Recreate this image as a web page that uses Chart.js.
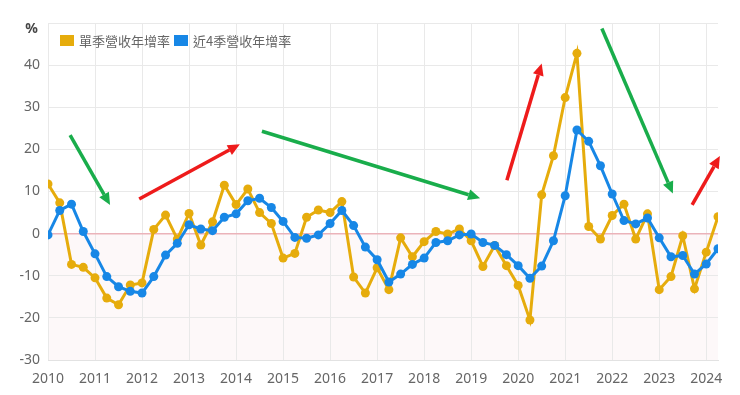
<!DOCTYPE html>
<html>
<head>
<meta charset="utf-8">
<script src="https://cdn.jsdelivr.net/npm/chart.js@4.4.1/dist/chart.umd.min.js"></script>
<style>
  html, body { margin: 0; padding: 0; background: #fff; }
  #chart { display: block; }
</style>
</head>
<body>
<canvas id="chart" width="740" height="395"></canvas>
<script>
// quarters 2010Q1 .. 2024Q2
const quarters = [
  '2010Q1','2010Q2','2010Q3','2010Q4','2011Q1','2011Q2','2011Q3','2011Q4',
  '2012Q1','2012Q2','2012Q3','2012Q4','2013Q1','2013Q2','2013Q3','2013Q4',
  '2014Q1','2014Q2','2014Q3','2014Q4','2015Q1','2015Q2','2015Q3','2015Q4',
  '2016Q1','2016Q2','2016Q3','2016Q4','2017Q1','2017Q2','2017Q3','2017Q4',
  '2018Q1','2018Q2','2018Q3','2018Q4','2019Q1','2019Q2','2019Q3','2019Q4',
  '2020Q1','2020Q2','2020Q3','2020Q4','2021Q1','2021Q2','2021Q3','2021Q4',
  '2022Q1','2022Q2','2022Q3','2022Q4','2023Q1','2023Q2','2023Q3','2023Q4',
  '2024Q1','2024Q2'
];

// 單季營收年增率
const singleQuarter = [
  11.8, 7.3, -7.3, -8.0, -10.5, -15.3, -16.9, -12.2,
  -11.7, 1.0, 4.4, -1.3, 4.8, -2.7, 2.8, 11.5,
  6.9, 10.6, 5.0, 2.4, -5.8, -4.7, 3.9, 5.6,
  5.0, 7.6, -10.3, -14.1, -8.1, -13.3, -1.0, -5.5,
  -1.9, 0.5, -0.1, 1.1, -1.7, -7.8, -2.8, -7.6,
  -12.3, -20.5, 9.2, 18.5, 32.3, 42.8, 1.7, -1.3,
  4.3, 7.0, -1.3, 4.7, -13.3, -10.2, -0.5, -13.1,
  -4.4, 4.0
];

// 近4季營收年增率
const last4Quarters = [
  -0.3, 5.5, 7.0, 0.5, -4.8, -10.2, -12.6, -13.7,
  -14.1, -10.2, -5.1, -2.3, 2.1, 1.1, 0.7, 3.9,
  4.7, 7.8, 8.4, 6.2, 2.9, -0.9, -1.1, -0.3,
  2.4, 5.5, 1.9, -3.2, -6.2, -11.5, -9.6, -7.3,
  -5.8, -2.1, -1.7, -0.3, -0.1, -2.1, -2.8, -5.0,
  -7.6, -10.6, -7.7, -1.7, 9.0, 24.6, 21.9, 16.1,
  9.4, 3.1, 2.3, 3.7, -1.0, -5.5, -5.2, -9.6,
  -7.2, -3.6
];

const yTicks = [-30, -20, -10, 0, 10, 20, 30, 40, 50];
const xYears = [2010, 2011, 2012, 2013, 2014, 2015, 2016, 2017, 2018, 2019, 2020, 2021, 2022, 2023, 2024];

// trend arrows: [fromYear, fromValue, toYear, toValue]
const arrowsGreen = [
  [2010.47, 23.4, 2011.32, 6.8],
  [2014.55, 24.3, 2019.19, 8.4],
  [2021.78, 48.7, 2023.29, 9.5]
];
const arrowsRed = [
  [2011.94, 8.2, 2014.08, 21.2],
  [2019.76, 12.7, 2020.50, 40.4],
  [2023.70, 6.8, 2024.29, 18.4]
];

const YELLOW = '#e6ac0c';
const BLUE = '#1787e6';
const FONT = "'Noto Sans', 'Noto Sans CJK TC', sans-serif";
const CJK = "'Noto Sans CJK TC', 'Noto Sans', sans-serif";

function qx(q) {
  return Number(q.slice(0, 4)) + (Number(q.slice(5)) - 1) / 4;
}

function toPoints(values) {
  return values.map((v, i) => ({ x: qx(quarters[i]), y: v }));
}

// pink band under zero
const belowZero = {
  id: 'belowZero',
  beforeDraw(chart) {
    const { ctx, chartArea: a, scales: { y } } = chart;
    const z = y.getPixelForValue(0);
    ctx.save();
    ctx.fillStyle = '#fdf8f9';
    ctx.fillRect(a.left, z, a.right - a.left, a.bottom - z);
    ctx.restore();
  }
};

function drawArrow(ctx, x0, y0, x1, y1, color) {
  const ang = Math.atan2(y1 - y0, x1 - x0);
  const head = 12, half = 5.5;
  const bx = x1 - head * Math.cos(ang), by = y1 - head * Math.sin(ang);
  ctx.strokeStyle = color;
  ctx.fillStyle = color;
  ctx.lineWidth = 3.5;
  ctx.beginPath();
  ctx.moveTo(x0, y0);
  ctx.lineTo(bx, by);
  ctx.stroke();
  ctx.beginPath();
  ctx.moveTo(x1, y1);
  ctx.lineTo(bx + half * Math.sin(ang), by - half * Math.cos(ang));
  ctx.lineTo(bx - half * Math.sin(ang), by + half * Math.cos(ang));
  ctx.closePath();
  ctx.fill();
}

const trendArrows = {
  id: 'trendArrows',
  afterDatasetsDraw(chart) {
    const { ctx, scales: { x, y } } = chart;
    ctx.save();
    ctx.lineCap = 'butt';
    arrowsGreen.forEach(a => drawArrow(ctx, x.getPixelForValue(a[0]), y.getPixelForValue(a[1]),
      x.getPixelForValue(a[2]), y.getPixelForValue(a[3]), '#19ad4b'));
    arrowsRed.forEach(a => drawArrow(ctx, x.getPixelForValue(a[0]), y.getPixelForValue(a[1]),
      x.getPixelForValue(a[2]), y.getPixelForValue(a[3]), '#ee1b1b'));
    ctx.restore();
  }
};

// legend inside plot + % unit label
const extras = {
  id: 'extras',
  afterDraw(chart) {
    const { ctx, chartArea: a, scales: { y } } = chart;
    ctx.save();
    ctx.font = '13px ' + CJK;
    ctx.textBaseline = 'middle';
    let lx = a.left + 12;
    const ly = a.top + 12;
    chart.data.datasets.forEach(ds => {
      ctx.fillStyle = ds.borderColor;
      ctx.fillRect(lx, ly, 14, 11);
      ctx.fillStyle = '#666';
      ctx.fillText(ds.label, lx + 19, ly + 6);
      lx += 19 + ctx.measureText(ds.label).width + 4;
    });

    ctx.font = 'bold 14px ' + FONT;
    ctx.fillStyle = '#444';
    ctx.textAlign = 'right';
    ctx.fillText('%', y.right - 10, y.getPixelForValue(50) + 6);
    ctx.restore();
  }
};

const ctx = document.getElementById('chart').getContext('2d');

new Chart(ctx, {
  type: 'line',
  data: {
    datasets: [{
      label: '單季營收年增率',
      data: toPoints(singleQuarter),
      borderColor: YELLOW,
      backgroundColor: YELLOW,
      pointBackgroundColor: YELLOW,
      borderWidth: 3,
      pointRadius: 4.5,
      pointBorderWidth: 0,
      tension: 0,
      order: 2
    }, {
      label: '近4季營收年增率',
      data: toPoints(last4Quarters),
      borderColor: BLUE,
      backgroundColor: BLUE,
      pointBackgroundColor: BLUE,
      borderWidth: 3,
      pointRadius: 4.5,
      pointBorderWidth: 0,
      tension: 0,
      order: 1
    }]
  },
  options: {
    responsive: false,
    animation: false,
    layout: { padding: { top: 23, right: 22, left: 0, bottom: 0 } },
    plugins: {
      legend: { display: false },
      tooltip: { enabled: false }
    },
    scales: {
      x: {
        type: 'linear',
        min: 2010,
        max: 2024.25,
        afterFit: s => { s.height = 35; },
        afterBuildTicks: s => { s.ticks = xYears.map(v => ({ value: v })); },
        grid: { color: '#e9e9e9', drawTicks: false },
        border: { color: '#e2e2e2' },
        ticks: {
          padding: 11,
          maxRotation: 0,
          color: '#666',
          font: { family: FONT, size: 14 },
          callback: v => String(v)
        }
      },
      y: {
        min: -30,
        max: 50,
        afterFit: s => { s.width = 48; },
        afterBuildTicks: s => { s.ticks = yTicks.map(v => ({ value: v })); },
        grid: {
          drawTicks: false,
          color: c => c.tick && c.tick.value === 0 ? '#ebb3ba' : '#e9e9e9',
          lineWidth: c => c.tick && c.tick.value === 0 ? 1.5 : 1
        },
        border: { display: false },
        ticks: {
          padding: 8,
          color: '#666',
          font: { family: FONT, size: 14 },
          callback: v => v === 50 ? '' : String(v)
        }
      }
    }
  },
  plugins: [belowZero, trendArrows, extras]
});
</script>
</body>
</html>
